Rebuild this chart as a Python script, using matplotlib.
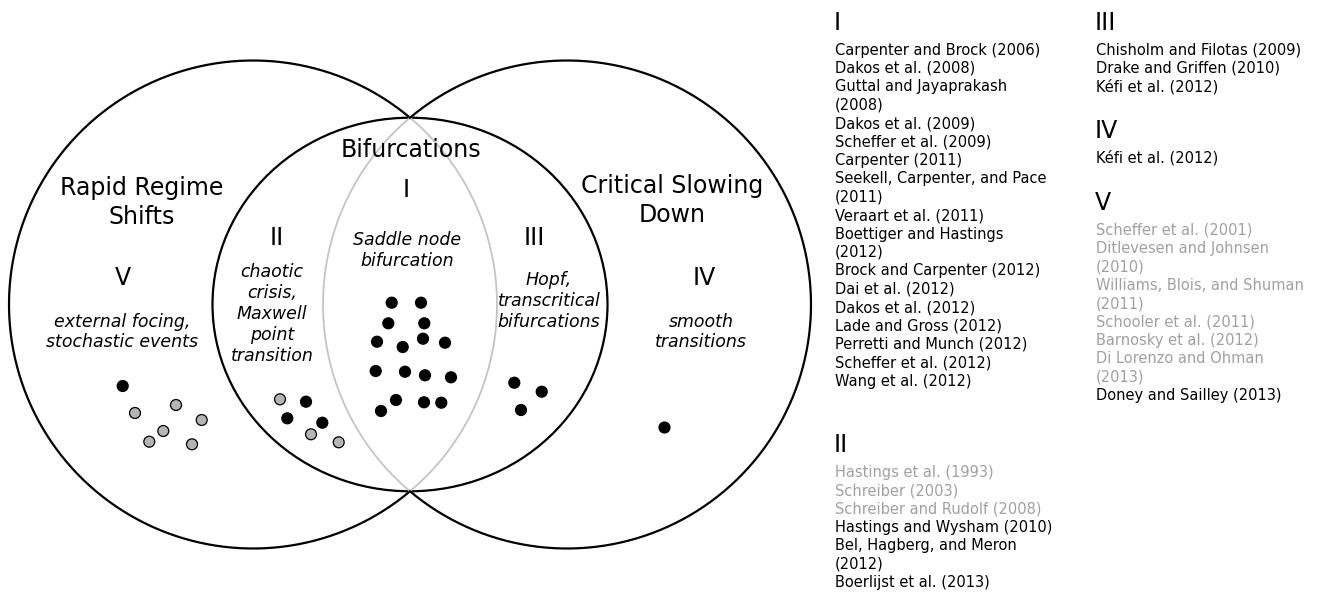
import numpy as np
import matplotlib.pyplot as plt
from matplotlib.patches import Ellipse

# studies per region, each dot is one study (grey = faded in the lists)
dots_I_x = [391.7, 421, 388.3, 424.3, 377, 402.7, 423, 445, 375.7, 405, 425, 451, 396, 381, 424, 441.3]
dots_I_y = [302.7, 302.7, 323.3, 323.3, 341.7, 347, 338.7, 342.7, 371, 371.7, 375.3, 377.3, 400, 411, 402.3, 402.7]
dots_I_grey = [0] * 16

dots_II_x = [280, 306, 287.3, 322.3, 311, 338.7]
dots_II_y = [399.3, 401.7, 418.3, 422.7, 434.3, 442.3]
dots_II_grey = [1, 0, 0, 0, 1, 1]

dots_III_x = [514.3, 541.7, 521]
dots_III_y = [382.7, 391.7, 410]
dots_III_grey = [0, 0, 0]

dots_IV_x = [664.3]
dots_IV_y = [427.3]
dots_IV_grey = [0]

dots_V_x = [122.7, 135, 176, 201.7, 163.3, 149.3, 192]
dots_V_y = [386, 413, 405, 420, 431, 441.7, 444.3]
dots_V_grey = [0, 1, 1, 1, 1, 1, 1]

refs_I = ['Carpenter and Brock (2006)', 'Dakos et al. (2008)', 'Guttal and Jayaprakash\n(2008)',
          'Dakos et al. (2009)', 'Scheffer et al. (2009)', 'Carpenter (2011)',
          'Seekell, Carpenter, and Pace\n(2011)', 'Veraart et al. (2011)', 'Boettiger and Hastings\n(2012)',
          'Brock and Carpenter (2012)', 'Dai et al. (2012)', 'Dakos et al. (2012)', 'Lade and Gross (2012)',
          'Perretti and Munch (2012)', 'Scheffer et al. (2012)', 'Wang et al. (2012)']
faded_I = [0] * 16
refs_II = ['Hastings et al. (1993)', 'Schreiber (2003)', 'Schreiber and Rudolf (2008)',
           'Hastings and Wysham (2010)', 'Bel, Hagberg, and Meron\n(2012)', 'Boerlijst et al. (2013)']
faded_II = [1, 1, 1, 0, 0, 0]
refs_III = ['Chisholm and Filotas (2009)', 'Drake and Griffen (2010)', 'Kéfi et al. (2012)']
faded_III = [0, 0, 0]
refs_IV = ['Kéfi et al. (2012)']
faded_IV = [0]
refs_V = ['Scheffer et al. (2001)', 'Ditlevesen and Johnsen\n(2010)', 'Williams, Blois, and Shuman\n(2011)',
          'Schooler et al. (2011)', 'Barnosky et al. (2012)', 'Di Lorenzo and Ohman\n(2013)',
          'Doney and Sailley (2013)']
faded_V = [1, 1, 1, 1, 1, 1, 0]

GREY_TXT = '#a0a0a0'
GREY_DOT = '#b4b4b4'
GREY_LINE = '#c4c4c4'

fig = plt.figure(figsize=(13.2, 5.92), dpi=100)
ax = fig.add_axes([0, 0, 1, 1])
ax.set_xlim(0, 1320)
ax.set_ylim(592, 0)
ax.axis('off')

# two big circles, the lens between them in grey
r = 244
cy = 304.5
cxl, cxr = 253, 567
h = np.sqrt(r**2 - ((cxr - cxl) / 2)**2)
a = np.degrees(np.arctan2(h, (cxr - cxl) / 2))
t = np.radians(np.linspace(a, 360 - a, 400))
ax.plot(cxl + r*np.cos(t), cy + r*np.sin(t), color='black', lw=1.6)
t = np.radians(np.linspace(-a, a, 200))
ax.plot(cxl + r*np.cos(t), cy + r*np.sin(t), color=GREY_LINE, lw=1.3)
t = np.radians(np.linspace(180 - a, 180 + a, 200))
ax.plot(cxr + r*np.cos(t), cy + r*np.sin(t), color=GREY_LINE, lw=1.3)
t = np.radians(np.linspace(-(180 - a), 180 - a, 400))
ax.plot(cxr + r*np.cos(t), cy + r*np.sin(t), color='black', lw=1.6)

ax.add_patch(Ellipse((410, cy), 395, 2*h, fill=False, ec='black', lw=1.6))

for xs, ys, gs in [(dots_I_x, dots_I_y, dots_I_grey), (dots_II_x, dots_II_y, dots_II_grey),
                   (dots_III_x, dots_III_y, dots_III_grey), (dots_IV_x, dots_IV_y, dots_IV_grey),
                   (dots_V_x, dots_V_y, dots_V_grey)]:
    cols = [GREY_DOT if g else 'black' for g in gs]
    ax.scatter(xs, ys, s=62, c=cols, edgecolors='black', linewidths=0.9, zorder=3)

big = 17
ax.text(142, 202.5, 'Rapid Regime\nShifts', fontsize=big, ha='center', va='center', linespacing=1.27)
ax.text(411, 150, 'Bifurcations', fontsize=big, ha='center', va='center')
ax.text(672, 200.5, 'Critical Slowing\nDown', fontsize=big, ha='center', va='center', linespacing=1.27)
ax.text(406, 190, 'I', fontsize=big, ha='center', va='center')
ax.text(277, 238, 'II', fontsize=big, ha='center', va='center')
ax.text(534, 238, 'III', fontsize=big, ha='center', va='center')
ax.text(704, 278, 'IV', fontsize=big, ha='center', va='center')
ax.text(123, 278, 'V', fontsize=big, ha='center', va='center')

sm = 12.5
ax.text(407, 250.5, 'Saddle node\nbifurcation', fontsize=sm, style='italic', ha='center', va='center')
ax.text(272, 314, 'chaotic\ncrisis,\nMaxwell\npoint\ntransition', fontsize=sm, style='italic', ha='center', va='center')
ax.text(549, 301, 'Hopf,\ntranscritical\nbifurcations', fontsize=sm, style='italic', ha='center', va='center')
ax.text(701, 332, 'smooth\ntransitions', fontsize=sm, style='italic', ha='center', va='center')
ax.text(122, 332, 'external focing,\nstochastic events', fontsize=sm, style='italic', ha='center', va='center')

# reference lists
step = 18.4
blocks = [('I', refs_I, faded_I, 835, 22.8), ('III', refs_III, faded_III, 1096, 22.8),
          ('IV', refs_IV, faded_IV, 1096, 130.8), ('V', refs_V, faded_V, 1096, 202.8),
          ('II', refs_II, faded_II, 835, 445)]
for lab, refs, faded, x, y0 in blocks:
    ax.text(x - 1, y0, lab, fontsize=big, ha='left', va='center')
    y = y0 + 27.2
    for ref, f in zip(refs, faded):
        for line in ref.split('\n'):
            ax.text(x, y, line, fontsize=10.5, ha='left', va='center', color=GREY_TXT if f else 'black')
            y += step

fig.savefig('out.png', dpi=100)
